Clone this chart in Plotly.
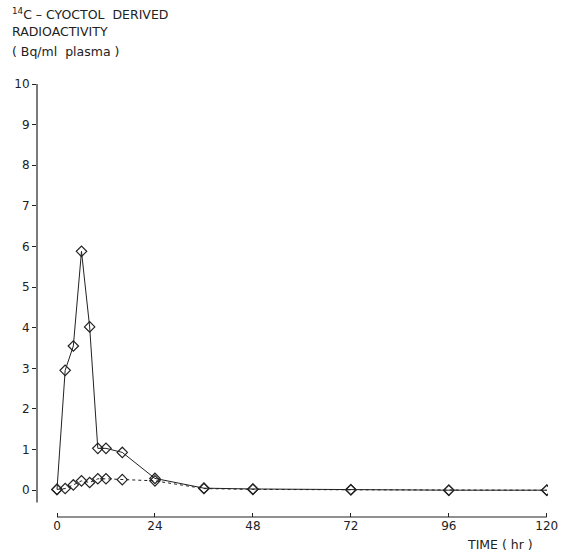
import plotly.graph_objects as go

time_hr = [0, 2, 4, 6, 8, 10, 12, 16, 24, 36, 48, 72, 96, 120]
series_a = [0.02, 2.95, 3.55, 5.88, 4.02, 1.03, 1.03, 0.93, 0.29, 0.05, 0.03, 0.01, 0.0, 0.0]
series_b = [0.02, 0.04, 0.13, 0.23, 0.19, 0.28, 0.28, 0.26, 0.23, 0.04, 0.02, 0.01, 0.0, 0.0]
x_ticks = [0, 24, 48, 72, 96, 120]
y_ticks = list(range(0, 11))

fig = go.Figure()
fig.add_trace(go.Scatter(x=time_hr, y=series_b, mode="lines+markers",
                         line=dict(color="#222", width=1, dash="dot"),
                         marker=dict(symbol="diamond-open", size=8, color="#222", line=dict(width=1.2))))
fig.add_trace(go.Scatter(x=time_hr, y=series_a, mode="lines+markers",
                         line=dict(color="#222", width=1),
                         marker=dict(symbol="diamond-open", size=8, color="#222", line=dict(width=1.2))))

font = dict(family="DejaVu Sans", size=12, color="#222")
tfont = dict(family="DejaVu Sans", size=12.5, color="#222")
fig.update_layout(
    width=562, height=551, showlegend=False, autosize=False,
    paper_bgcolor="white", plot_bgcolor="white",
    margin=dict(l=37, r=14, t=84, b=34),
    font=font,
    xaxis=dict(range=[-4.9, 120.3], tickvals=x_ticks, ticks="inside", ticklen=4, automargin=False,
               tickcolor="#222", showgrid=False, zeroline=False, showline=False),
    yaxis=dict(range=[-0.66, 10], tickvals=y_ticks, ticks="outside", ticklen=4, automargin=False,
               tickcolor="#222", showgrid=False, zeroline=False, showline=False),
    shapes=[
        dict(type="line", xref="x", yref="paper", x0=0, x1=120, y0=0, y1=0, line=dict(color="#222", width=1.2)),
        dict(type="line", xref="paper", yref="y", x0=0, x1=0, y0=-0.3, y1=10, line=dict(color="#222", width=1.2)),
    ],
)
texts = [("<sup>14</sup>C – CYOCTOL  DERIVED", 14), ("RADIOACTIVITY", 32), ("( Bq/ml  plasma )", 52)]
for t, ypx in texts:
    fig.add_annotation(text=t, xref="paper", yref="paper", x=-27/511, y=1 + (84 - ypx) / 433,
                       xanchor="left", yanchor="middle", showarrow=False, font=tfont)
fig.add_annotation(text="TIME ( hr )", xref="paper", yref="paper", x=(535 - 37) / 511, y=-(544 - 517) / 433,
                   xanchor="right", yanchor="middle", showarrow=False, font=tfont)

fig.write_html("out.html", config={"displayModeBar": False},
               post_script="document.body.style.margin='0';")
